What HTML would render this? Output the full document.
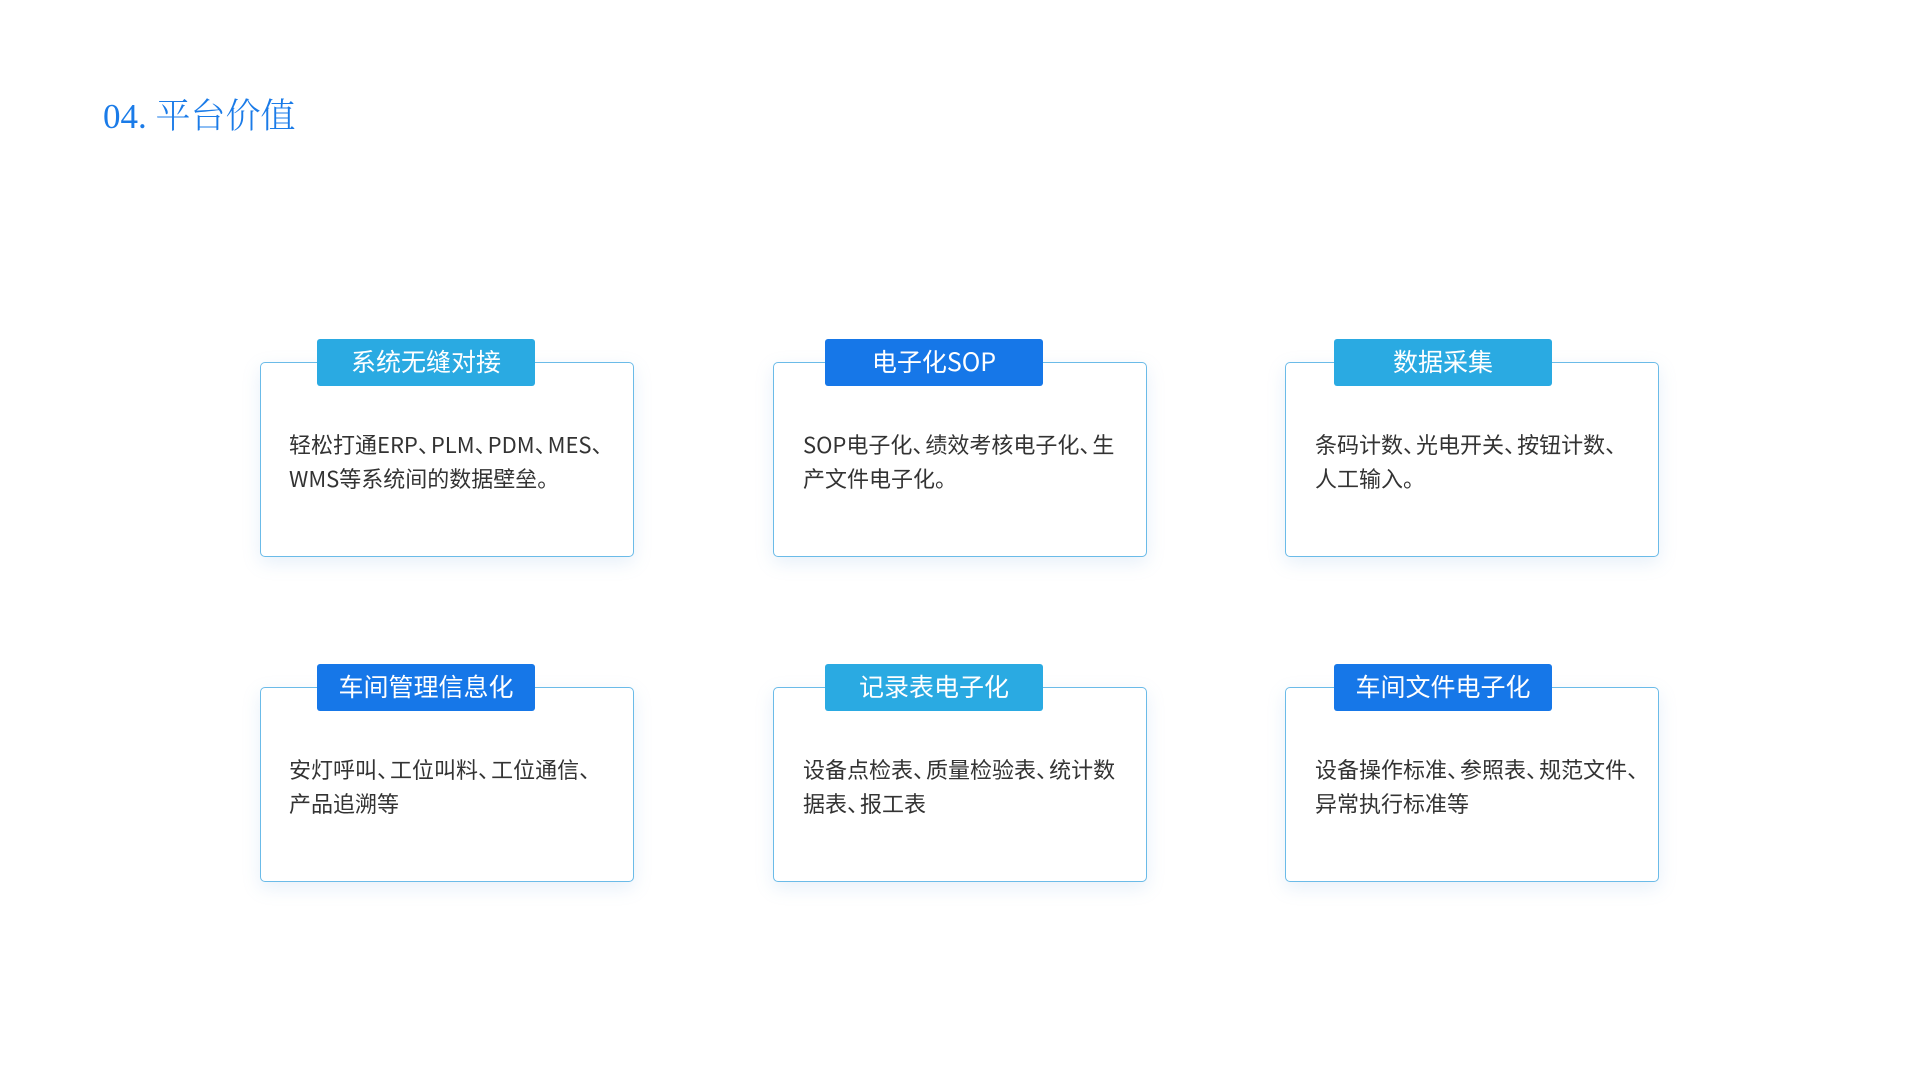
<!DOCTYPE html>
<html><head><meta charset="utf-8"><style>
html,body{margin:0;padding:0;background:#fff;width:1920px;height:1068px;overflow:hidden;font-family:"Noto Sans CJK SC","Liberation Sans",sans-serif;}
.t{position:absolute;left:103px;top:94px;font-family:"Liberation Serif","Noto Serif CJK SC",serif;font-size:35px;color:#1a7be8;line-height:46px;font-weight:300;}
.box{position:absolute;width:372px;height:193px;border:1.5px solid #6bbbe8;border-radius:5px;background:#fff;box-shadow:0 6px 18px rgba(120,170,220,0.18);}
.tab{position:absolute;width:218px;height:47px;border-radius:3px;color:#fff;font-size:25px;line-height:45px;text-align:center;}
.c{background:#2aaae2}.b{background:#1677e8}
.tx{position:absolute;font-size:22px;line-height:34px;color:#333;white-space:nowrap;}
.p{letter-spacing:-9px;}
</style></head><body>
<div class="t">04. 平台价值</div>

<div class="box" style="left:260px;top:362px"></div>
<div class="tab c" style="left:317px;top:339px">系统无缝对接</div>
<div class="tx" style="left:289px;top:427px">轻松打通ERP<span class="p">、</span>PLM<span class="p">、</span>PDM<span class="p">、</span>MES<span class="p">、</span><br>WMS等系统间的数据壁垒。</div>

<div class="box" style="left:773px;top:362px"></div>
<div class="tab b" style="left:825px;top:339px">电子化SOP</div>
<div class="tx" style="left:803px;top:427px">SOP电子化<span class="p">、</span>绩效考核电子化<span class="p">、</span>生<br>产文件电子化。</div>

<div class="box" style="left:1285px;top:362px"></div>
<div class="tab c" style="left:1334px;top:339px">数据采集</div>
<div class="tx" style="left:1315px;top:427px">条码计数<span class="p">、</span>光电开关<span class="p">、</span>按钮计数<span class="p">、</span><br>人工输入。</div>

<div class="box" style="left:260px;top:687px"></div>
<div class="tab b" style="left:317px;top:664px">车间管理信息化</div>
<div class="tx" style="left:289px;top:752px">安灯呼叫<span class="p">、</span>工位叫料<span class="p">、</span>工位通信<span class="p">、</span><br>产品追溯等</div>

<div class="box" style="left:773px;top:687px"></div>
<div class="tab c" style="left:825px;top:664px">记录表电子化</div>
<div class="tx" style="left:803px;top:752px">设备点检表<span class="p">、</span>质量检验表<span class="p">、</span>统计数<br>据表<span class="p">、</span>报工表</div>

<div class="box" style="left:1285px;top:687px"></div>
<div class="tab b" style="left:1334px;top:664px">车间文件电子化</div>
<div class="tx" style="left:1315px;top:752px">设备操作标准<span class="p">、</span>参照表<span class="p">、</span>规范文件<span class="p">、</span><br>异常执行标准等</div>
</body></html>
